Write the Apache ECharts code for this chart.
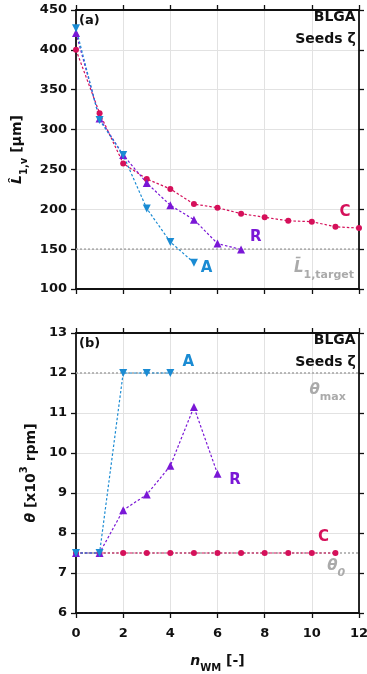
<!DOCTYPE html>
<html>
<head>
<meta charset="utf-8">
<script src="https://cdn.jsdelivr.net/npm/echarts@6/dist/echarts.min.js"></script>
<style>
  html, body { margin: 0; padding: 0; background: #fff; }
  #chart { width: 367px; height: 674px; }
</style>
</head>
<body>
<div id="chart"></div>
<script>
// Number of wall-mixing steps
const nWM = [0, 1, 2, 3, 4, 5, 6, 7, 8, 9, 10, 11, 12];

// (a) mean crystal length L̂1,v [µm] per strategy
const lengthC = [400, 320.5, 257.5, 238, 225.5, 206.5, 202, 194.5, 190, 185.5, 184.5, 178, 176.5];
const lengthR = [421, 314, 268, 233, 205, 187, 157, 149.5];
const lengthA = [427, 312, 268, 201, 159, 133];
const lengthTarget = 150;

// (b) stirrer speed θ [x10^3 rpm] per strategy
const speedC = [7.5, 7.5, 7.5, 7.5, 7.5, 7.5, 7.5, 7.5, 7.5, 7.5, 7.5, 7.5];
const speedR = [7.5, 7.5, 8.57, 8.96, 9.68, 11.15, 9.48];
const speedA = [7.5, 7.5, 12, 12, 12];
const speedMax = 12;
const speedStart = 7.5;

// Axis ranges / ticks
const xRange = [0, 12, 2];
const lengthRange = [100, 450, 50];
const speedRange = [6, 13, 1];

const COL_C = '#d5105a';
const COL_R = '#7a17d6';
const COL_A = '#1a8bd3';
const COL_REF = '#aaaaaa';
const FONT = 'DejaVu Sans';

const pairs = (xs, ys) => ys.map((v, i) => [xs[i], v]);

function frameAxis(grid, pos, range, withLabels, withSplit) {
  const isX = pos === 'bottom' || pos === 'top';
  return {
    type: 'value',
    gridIndex: grid,
    position: pos,
    min: range[0], max: range[1], interval: range[2],
    axisLine: { show: true, onZero: false, lineStyle: { color: '#111', width: 1.8 } },
    axisTick: { show: true, inside: false, length: 5, lineStyle: { color: '#111', width: 1.3 } },
    axisLabel: {
      show: withLabels, color: '#111', fontFamily: FONT, fontWeight: 'bold', fontSize: 13,
      margin: isX ? 14 : 9
    },
    splitLine: { show: withSplit, lineStyle: { color: '#e2e2e2', width: 1 } }
  };
}

const rich = {
  base: { fontFamily: FONT, fontWeight: 'bold', fontSize: 14, color: '#111', lineHeight: 16, verticalAlign: 'top', padding: [5, 0, 0, 0] },
  it: { fontFamily: FONT, fontWeight: 'bold', fontStyle: 'italic', fontSize: 14, color: '#111', lineHeight: 16, verticalAlign: 'top', padding: [5, 0, 0, 0] },
  sub: { fontFamily: FONT, fontWeight: 'bold', fontSize: 10, color: '#111', lineHeight: 10, verticalAlign: 'top', padding: [14, 0, 0, 0] },
  sup: { fontFamily: FONT, fontWeight: 'bold', fontSize: 10, color: '#111', lineHeight: 10, verticalAlign: 'top', padding: [0, 0, 0, 0] }
};

function line(name, grid, xs, ys, color, symbol, rotate, size) {
  return {
    name, type: 'line', xAxisIndex: grid * 2, yAxisIndex: grid * 2,
    data: pairs(xs, ys),
    symbol, symbolRotate: rotate, symbolSize: size,
    itemStyle: { color, opacity: 1 },
    lineStyle: { color, width: 1.2, type: [2.5, 2] },
    silent: true, z: 3
  };
}

function refLine(grid, value) {
  return {
    type: 'line', xAxisIndex: grid * 2, yAxisIndex: grid * 2,
    data: [[xRange[0], value], [xRange[1], value]],
    symbol: 'none',
    lineStyle: { color: COL_REF, width: 1.6, type: [2, 2] },
    silent: true, z: 2
  };
}

// Text annotations placed in data coordinates of each panel
function note(grid, x, y, text, color, size, align, extraRich) {
  return {
    type: 'scatter', xAxisIndex: grid * 2, yAxisIndex: grid * 2,
    data: [[x, y]], symbolSize: 0, silent: true, z: 5,
    itemStyle: { opacity: 1 },
    label: {
      show: true, position: 'inside', formatter: text, color, opacity: 1,
      fontFamily: FONT, fontWeight: 'bold', fontSize: size,
      align, verticalAlign: 'middle', lineHeight: 22,
      rich: extraRich || {}
    }
  };
}

const grayRich = {
  g: { fontFamily: FONT, fontWeight: 'bold', fontStyle: 'italic', fontSize: 15, color: COL_REF, lineHeight: 16, verticalAlign: 'top' },
  gs: { fontFamily: FONT, fontWeight: 'bold', fontSize: 11, color: COL_REF, lineHeight: 10, verticalAlign: 'top', padding: [9, 0, 0, 0] },
  gsi: { fontFamily: FONT, fontWeight: 'bold', fontStyle: 'italic', fontSize: 11, color: COL_REF, lineHeight: 10, verticalAlign: 'top', padding: [9, 0, 0, 0] }
};

const option = {
  animation: false,
  backgroundColor: '#fff',
  grid: [
    { left: 76, right: 8, top: 10, height: 279, containLabel: false, outerBoundsMode: 'none' },
    { left: 76, right: 8, top: 333, height: 280, containLabel: false, outerBoundsMode: 'none' }
  ],
  xAxis: [
    frameAxis(0, 'bottom', xRange, false, true),
    frameAxis(0, 'top', xRange, false, false),
    Object.assign(frameAxis(1, 'bottom', xRange, true, true), {
      name: '{it|n}{sub|WM}{base| [-]}', nameLocation: 'middle', nameGap: 36,
      nameTextStyle: { rich }
    }),
    frameAxis(1, 'top', xRange, false, false)
  ],
  yAxis: [
    Object.assign(frameAxis(0, 'left', lengthRange, true, true), {
      name: '{it|L\u0302}{sub|1,v}{base| [µm]}', nameLocation: 'middle', nameGap: 44,
      nameTextStyle: { rich }
    }),
    frameAxis(0, 'right', lengthRange, false, false),
    Object.assign(frameAxis(1, 'left', speedRange, true, true), {
      name: '{it|θ}{base| [x10}{sup|3}{base| rpm]}', nameLocation: 'middle', nameGap: 38,
      nameTextStyle: { rich }
    }),
    frameAxis(1, 'right', speedRange, false, false)
  ],
  series: [
    refLine(0, lengthTarget),
    refLine(1, speedMax),
    refLine(1, speedStart),
    line('C', 0, nWM, lengthC, COL_C, 'circle', 0, 6),
    line('R', 0, nWM, lengthR, COL_R, 'triangle', 0, 8),
    line('A', 0, nWM, lengthA, COL_A, 'triangle', 180, 8),
    line('C', 1, nWM, speedC, COL_C, 'circle', 0, 6),
    line('R', 1, nWM, speedR, COL_R, 'triangle', 0, 8),
    line('A', 1, nWM, speedA, COL_A, 'triangle', 180, 8),

    note(0, 0.13, 436.4, '(a)', '#111', 13, 'left'),
    note(0, 11.86, 426.4, 'BLGA\nSeeds ζ', '#111', 14, 'right'),
    note(0, 5.54, 126.3, 'A', COL_A, 15, 'center'),
    note(0, 7.62, 165, 'R', COL_R, 15, 'center'),
    note(0, 11.41, 196.6, 'C', COL_C, 15, 'center'),
    note(0, 11.79, 126, '{g|L\u0304}{gs|1,target}', COL_REF, 15, 'right', grayRich),

    note(1, 0.13, 12.73, '(b)', '#111', 13, 'left'),
    note(1, 11.86, 12.53, 'BLGA\nSeeds ζ', '#111', 14, 'right'),
    note(1, 4.76, 12.27, 'A', COL_A, 15, 'center'),
    note(1, 6.74, 9.32, 'R', COL_R, 15, 'center'),
    note(1, 10.49, 7.9, 'C', COL_C, 15, 'center'),
    note(1, 11.44, 11.57, '{g|θ}{gs|max}', COL_REF, 15, 'right', grayRich),
    note(1, 11.41, 7.15, '{g|θ}{gsi|0}', COL_REF, 15, 'right', grayRich)
  ]
};

const chart = echarts.init(document.getElementById('chart'), null, { renderer: 'canvas' });
chart.setOption(option);
</script>
</body>
</html>
